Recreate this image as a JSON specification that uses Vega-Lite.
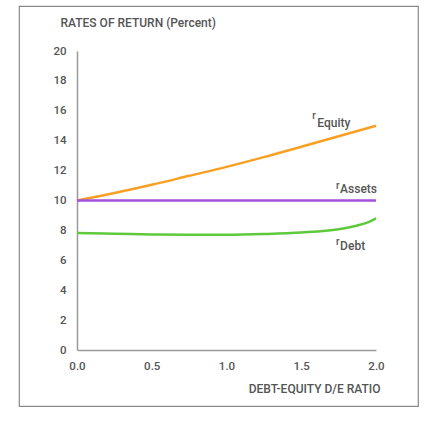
{
  "$schema": "https://vega.github.io/schema/vega-lite/v6.json",
  "autosize": "none",
  "width": 399,
  "height": 400,
  "padding": {"left": 19, "top": 6, "right": 18, "bottom": 19},
  "background": "white",
  "config": {
    "view": {"stroke": "#8a8a8a", "strokeWidth": 1.2},
    "font": "Roboto",
    "axis": {"grid": false, "ticks": false, "domainColor": "#9a9a9a", "domainWidth": 1.5, "labelFlush": false,
             "labelColor": "#555555", "labelFontSize": 11.5, "labelFont": "Roboto", "labelFontWeight": 500,
             "titleColor": "#555555", "titleFont": "Roboto", "titleFontWeight": 500, "titleFontSize": 12}
  },
  "datasets": {
    "rates": [
      {"de": 0.0, "rate": 10.0, "series": "Equity"},
      {"de": 0.25, "rate": 10.5, "series": "Equity"},
      {"de": 0.5, "rate": 11.05, "series": "Equity"},
      {"de": 0.75, "rate": 11.65, "series": "Equity"},
      {"de": 1.0, "rate": 12.25, "series": "Equity"},
      {"de": 1.25, "rate": 12.9, "series": "Equity"},
      {"de": 1.5, "rate": 13.6, "series": "Equity"},
      {"de": 1.75, "rate": 14.3, "series": "Equity"},
      {"de": 2.0, "rate": 15.0, "series": "Equity"},
      {"de": 0.0, "rate": 10.0, "series": "Assets"},
      {"de": 2.0, "rate": 10.0, "series": "Assets"},
      {"de": 0.0, "rate": 7.82, "series": "Debt"},
      {"de": 0.25, "rate": 7.78, "series": "Debt"},
      {"de": 0.5, "rate": 7.73, "series": "Debt"},
      {"de": 0.75, "rate": 7.71, "series": "Debt"},
      {"de": 1.0, "rate": 7.71, "series": "Debt"},
      {"de": 1.25, "rate": 7.76, "series": "Debt"},
      {"de": 1.5, "rate": 7.86, "series": "Debt"},
      {"de": 1.75, "rate": 8.08, "series": "Debt"},
      {"de": 1.86, "rate": 8.3, "series": "Debt"},
      {"de": 1.95, "rate": 8.55, "series": "Debt"},
      {"de": 2.0, "rate": 8.8, "series": "Debt"}
    ],
    "labels": [
      {"de": 1.573, "rate": 15.65, "text": "r", "kind": "sym"},
      {"de": 1.607, "rate": 15.2, "text": "Equity", "kind": "name"},
      {"de": 1.733, "rate": 11.0, "text": "r", "kind": "sym"},
      {"de": 1.76, "rate": 10.8, "text": "Assets", "kind": "name"},
      {"de": 1.733, "rate": 7.2, "text": "r", "kind": "sym"},
      {"de": 1.76, "rate": 6.93, "text": "Debt", "kind": "name"}
    ]
  },
  "encoding": {
    "x": {
      "field": "de", "type": "quantitative",
      "scale": {"domain": [0, 2], "range": [58, 357], "nice": false},
      "axis": {"values": [0, 0.5, 1, 1.5, 2], "format": ".1f", "offset": -56, "labelPadding": 10,
               "title": "DEBT-EQUITY D/E RATIO", "titleAnchor": "end", "titleAlign": "right",
               "titleX": 361, "titleY": 38, "titleBaseline": "middle"}
    },
    "y": {
      "field": "rate", "type": "quantitative",
      "scale": {"domain": [0, 20], "range": [344, 45], "nice": false},
      "axis": {"values": [0, 2, 4, 6, 8, 10, 12, 14, 16, 18, 20], "offset": -58, "labelPadding": 11,
               "title": "RATES OF RETURN (Percent)", "titleAngle": 0, "titleAlign": "left",
               "titleBaseline": "middle", "titleX": -17, "titleY": 16}
    }
  },
  "layer": [
    {
      "data": {"name": "rates"},
      "mark": {"type": "line", "interpolate": "monotone", "strokeWidth": 2.5, "clip": false},
      "encoding": {
        "color": {"field": "series", "type": "nominal", "legend": null,
                  "scale": {"domain": ["Equity", "Assets", "Debt"], "range": ["#f9a024", "#a54fdc", "#5ec93c"]}},
        "order": {"field": "de", "type": "quantitative"}
      }
    },
    {
      "data": {"name": "labels"},
      "transform": [{"filter": "datum.kind === 'name'"}],
      "mark": {"type": "text", "align": "left", "baseline": "middle", "fontSize": 12, "fontWeight": 500, "color": "#555555"},
      "encoding": {"text": {"field": "text"}}
    },
    {
      "data": {"name": "labels"},
      "transform": [{"filter": "datum.kind === 'sym'"}],
      "mark": {"type": "text", "align": "left", "baseline": "middle", "fontSize": 10, "fontWeight": 500, "color": "#555555"},
      "encoding": {"text": {"field": "text"}}
    }
  ]
}
